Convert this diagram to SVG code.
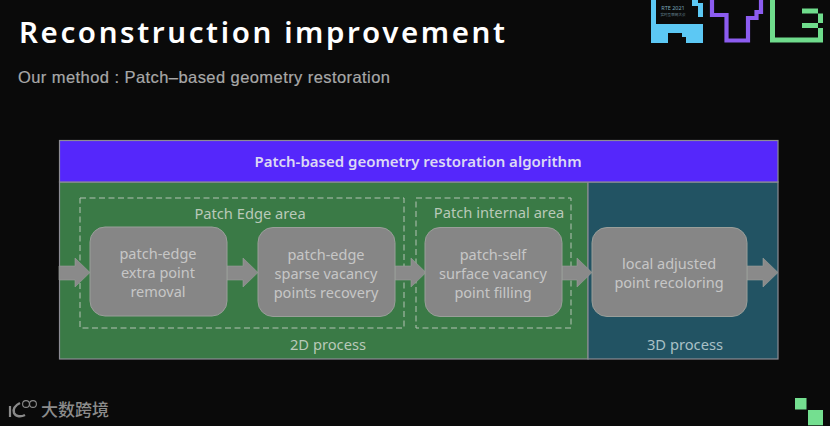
<svg xmlns="http://www.w3.org/2000/svg" width="830" height="426" viewBox="0 0 830 426">
<defs>
<style>
text{font-family:"Noto Sans","Liberation Sans","Noto Sans CJK SC",sans-serif;text-anchor:middle}
.band{stroke:#8c8c94;stroke-width:1.2}
.dash{fill:none;stroke:#b4c2b4;stroke-width:1;stroke-dasharray:6 3.5}
.box{fill:#868686;stroke:#9a9f9a;stroke-width:1}
.arrow{fill:#8a8a8a;stroke:#9a9f9a;stroke-width:.6}
.t{font-size:14.5px;fill:#c6c6c6}
.cap{font-size:14.700px;fill:#b9c9b9}
</style>
</defs>
<rect width="830" height="426" fill="#0a0a0a"/>
<text x="19" y="43" textLength="486" lengthAdjust="spacing" style="text-anchor:start;font-size:29.500px;font-weight:600" fill="#fff">Reconstruction improvement</text>
<text x="18" y="83" textLength="372" lengthAdjust="spacing" style="text-anchor:start;font-size:16.500px;font-family:'Liberation Sans',sans-serif;stroke:#a8a8a8;stroke-width:.2" fill="#a8a8a8">Our method : Patch–based geometry restoration</text>

<g id="logo-rtc">
<path fill="#5cc8f4" d="M651 0V43H668V33H682V37H686V43H703V24H656V0Z"/>
<path fill="#5cc8f4" d="M692 0H698V3H703V17H698V6H692Z"/>
<text x="673" y="9.500" style="font-size:5.500px" fill="#7aa6b8">RTE 2021</text>
<text x="673" y="16" style="font-size:3.600px" fill="#6b8c9a">实时互联网大会</text>
<path fill="none" stroke="#8c5cf0" stroke-width="4.200" d="M712 0V15H726.500V40.500H748V18H756.500V12H761V0"/>
<g fill="#6fdc8c">
<path d="M770 0H775V37.500H818V28H802V23H818V13.500H802V8.500H818V13.500H823V23H818V28H823V42.600H770Z"/>
</g>
</g>

<g id="panel-2d"><rect class="band" x="59.500" y="182" width="528.500" height="177" fill="#3a7a46"/></g>
<g id="panel-3d"><rect class="band" x="588" y="182" width="190" height="177" fill="#225363"/></g>
<g id="header"><rect class="band" x="59.500" y="140.500" width="718.500" height="41.500" fill="#5527fb"/>
<text x="418" y="167" style="font-size:15px;font-weight:600" fill="#dcd8f4">Patch-based geometry restoration algorithm</text></g>

<g id="area-edge"><rect class="dash" x="80" y="198" width="324" height="130"/>
<text class="cap" x="250" y="219">Patch Edge area</text></g>
<g id="area-internal"><rect class="dash" x="416" y="198" width="155" height="130"/>
<text class="cap" x="499" y="218">Patch internal area</text></g>

<g id="connectors">
<path class="arrow" d="M59 266H75V258L90 272.500L75 287V280H59Z"/>
<path class="arrow" d="M227 266H243V258L258 272.500L243 287V280H227Z"/>
<path class="arrow" d="M395 266H411V258L426 272.500L411 287V280H395Z"/>
<path class="arrow" d="M562 266H577V258L592 272.500L577 287V280H562Z"/>
<path class="arrow" d="M747 266H763V258L778 272.500L763 287V280H747Z"/>
</g>

<g id="node-removal"><rect class="box" x="90" y="227" width="137" height="89" rx="15"/>
<text class="t" x="158" y="259">patch-edge</text><text class="t" x="158" y="278">extra point</text><text class="t" x="158" y="297">removal</text></g>
<g id="node-recovery"><rect class="box" x="258" y="227.500" width="137" height="89" rx="15"/>
<text class="t" x="326" y="260">patch-edge</text><text class="t" x="326" y="279">sparse vacancy</text><text class="t" x="326" y="298">points recovery</text></g>
<g id="node-filling"><rect class="box" x="425" y="227.500" width="137" height="89" rx="15"/>
<text class="t" x="493" y="260">patch-self</text><text class="t" x="493" y="279">surface vacancy</text><text class="t" x="493" y="298">point filling</text></g>
<g id="node-recolor"><rect class="box" x="592" y="227.500" width="155" height="89" rx="15"/>
<text class="t" x="669" y="269">local adjusted</text><text class="t" x="669" y="288">point recoloring</text></g>

<text class="cap" x="328" y="350">2D process</text>
<text class="cap" x="685" y="350" style="fill:#a9c0c6">3D process</text>

<g id="logo-bottom">
<path fill="none" stroke="#8a8a8a" stroke-width="2.200" d="M10 406V417"/>
<path fill="none" stroke="#8a8a8a" stroke-width="2.500" d="M20 403C14 406 13 410 14 413C16 417 21 417 25 415"/>
<circle cx="26" cy="404" r="3.400" fill="none" stroke="#8a8a8a" stroke-width="1.100"/>
<circle cx="33" cy="404" r="3.400" fill="none" stroke="#8a8a8a" stroke-width="1.100"/>
<text x="75" y="416" style="font-size:17px;font-weight:500" fill="#8c8c8c">大数跨境</text>
</g>
<g id="logo-corner" fill="#74df90">
<rect x="795" y="398" width="11.500" height="11.500"/>
<rect x="808" y="410" width="15" height="15.300"/>
</g>
</svg>
